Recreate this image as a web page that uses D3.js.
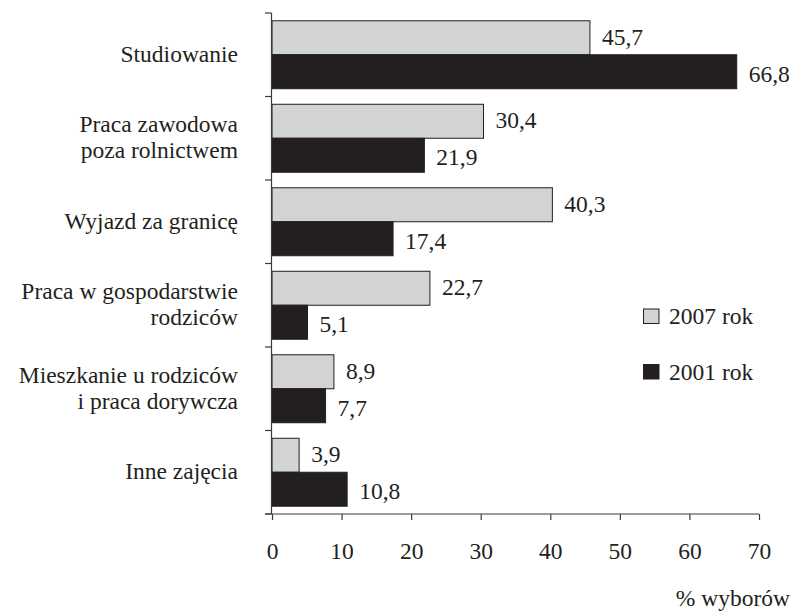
<!DOCTYPE html>
<html>
<head>
<meta charset="utf-8">
<script src="https://cdn.jsdelivr.net/npm/d3@7"></script>
</head>
<body style="margin:0; background:#fff">
<svg id="chart" width="792" height="614" font-family="'Liberation Serif', 'Times New Roman', Tinos, serif"></svg>
<script>
// data
const categories = [
  ["Studiowanie"],
  ["Praca zawodowa", "poza rolnictwem"],
  ["Wyjazd za granicę"],
  ["Praca w gospodarstwie", "rodziców"],
  ["Mieszkanie u rodziców", "i praca dorywcza"],
  ["Inne zajęcia"]
];
const seriesNames = ["2007 rok", "2001 rok"];
const values2007 = [45.7, 30.4, 40.3, 22.7, 8.9, 3.9];
const values2001 = [66.8, 21.9, 17.4, 5.1, 7.7, 10.8];
const xTicks = [0, 10, 20, 30, 40, 50, 60, 70];
const colors = ["#d2d3d5", "#231f20"];

const FONT = "'Liberation Serif', 'Times New Roman', Tinos, serif";
const FS = 23.5;
const ink = "#231f20";

const svg = d3.select("#chart");
const plotLeft = 272, plotRight = 759, plotTop = 13, plotBottom = 514;

let x = d3.scaleLinear().domain([0, 70]).range([plotLeft, plotRight]);
let y = d3.scaleBand().domain(d3.range(categories.length)).range([plotTop, plotBottom])
  .paddingInner(0.186).paddingOuter(0.093);
let ySub = d3.scaleBand().domain([0, 1]).range([0, y.bandwidth()]);

function txt(sel) {
  return sel.attr("font-family", FONT).attr("font-size", FS)
    .style("font-family", FONT).attr("fill", ink);
}

// bars + value labels
const g = svg.append("g");
const labelShift = [7, 10]; // baseline offset from bar centre, per series
categories.forEach(function (cat, i) {
  const vals = [values2007[i], values2001[i]];
  vals.forEach(function (v, s) {
    g.append("rect")
      .attr("x", x(0))
      .attr("y", y(i) + ySub(s))
      .attr("width", x(v) - x(0))
      .attr("height", ySub.bandwidth())
      .attr("fill", colors[s])
      .attr("stroke", ink)
      .attr("stroke-width", 1);
    txt(g.append("text"))
      .attr("x", x(v) + 12)
      .attr("y", y(i) + ySub(s) + ySub.bandwidth() / 2 + labelShift[s])
      .text(String(v).replace(".", ","));
  });

  // category label
  const cy = y(i) + y.bandwidth() / 2;
  const lh = 26;
  const t = txt(svg.append("text")).attr("text-anchor", "end");
  cat.forEach(function (line, k) {
    t.append("tspan")
      .attr("x", 238)
      .attr("y", cy + (k - (cat.length - 1) / 2) * lh + 7)
      .text(line);
  });
});

// left axis: line with ticks between groups
const yAxisG = svg.append("g").attr("stroke", "#3a3a3a").attr("stroke-width", 1.2);
yAxisG.append("line").attr("x1", plotLeft - 0.5).attr("x2", plotLeft - 0.5).attr("y1", plotTop).attr("y2", plotBottom);
const stepPx = (plotBottom - plotTop) / categories.length;
d3.range(categories.length + 1).forEach(function (k) {
  yAxisG.append("line")
    .attr("x1", plotLeft - 7).attr("x2", plotLeft - 0.5)
    .attr("y1", plotTop + k * stepPx).attr("y2", plotTop + k * stepPx);
});

// bottom axis
const xAxis = d3.axisBottom(x).tickValues(xTicks).tickSize(6).tickSizeOuter(0);
const xg = svg.append("g").attr("transform", `translate(0,${plotBottom})`).call(xAxis);
xg.attr("font-family", FONT).attr("font-size", FS);
xg.select(".domain").attr("stroke", "#3a3a3a").attr("stroke-width", 1.2).attr("d", `M${plotLeft - 7},0H${plotRight}`);
xg.selectAll(".tick line").attr("stroke", "#3a3a3a").attr("stroke-width", 1.2);
txt(xg.selectAll(".tick text")).attr("y", 45).attr("dy", null);

txt(svg.append("text"))
  .attr("x", 790).attr("y", 606)
  .attr("text-anchor", "end")
  .text("% wyborów");

// legend
const legendY = [324, 379.5];
seriesNames.forEach(function (name, s) {
  svg.append("rect")
    .attr("x", 643.5).attr("y", legendY[s] - 15)
    .attr("width", 15.5).attr("height", 14.5)
    .attr("fill", colors[s]).attr("stroke", ink);
  txt(svg.append("text"))
    .attr("x", 669).attr("y", legendY[s])
    .text(name);
});
</script>
</body>
</html>
